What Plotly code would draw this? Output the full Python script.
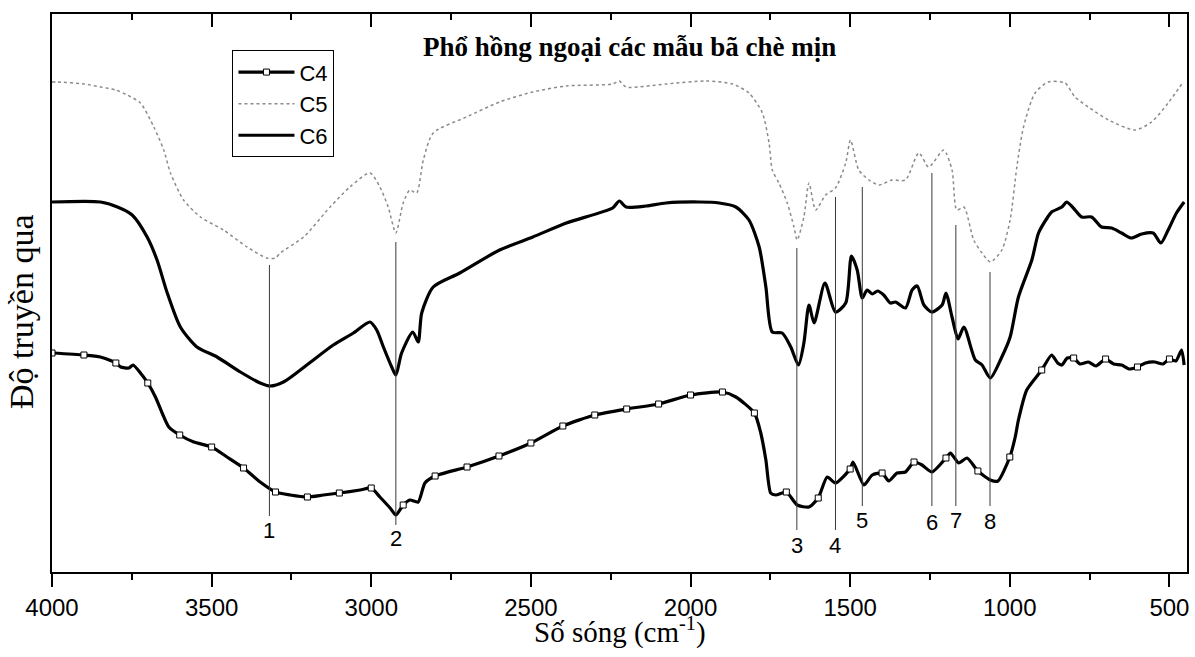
import plotly.graph_objects as go

# ---------------- data (wavenumber cm-1, transmittance arbitrary units) ----------------
wn_c4 = [4000, 3900, 3848, 3800, 3785, 3759, 3746, 3723, 3700, 3676, 3655, 3634, 3600, 3556,
         3500, 3452, 3400, 3348, 3300, 3254, 3200, 3150, 3100, 3035, 3000, 2973, 2941, 2923,
         2900, 2879, 2853, 2832, 2800, 2700, 2600, 2500, 2400, 2300, 2200, 2100, 2000, 1900,
         1858, 1800, 1780, 1764, 1749, 1733, 1700, 1666, 1629, 1600, 1572, 1546, 1500, 1491,
         1457, 1431, 1400, 1379, 1353, 1327, 1300, 1275, 1244, 1200, 1186, 1160, 1134, 1100,
         1061, 1037, 1000, 983, 973, 947, 900, 869, 850, 837, 820, 800, 780, 754, 730, 700,
         675, 650, 625, 600, 575, 546, 520, 500, 480, 462, 454]
t_c4 = [219, 217, 215, 209, 205, 204, 207, 199, 189, 175, 159, 145, 137, 130,
        125, 115, 104, 90, 80, 77, 75, 77, 79, 82, 84, 75, 64, 57,
        67, 72, 70, 89, 96, 105, 116, 129, 146, 157, 163, 168, 177, 180,
        175, 159, 139, 112, 79, 77, 80, 67, 65, 74, 95, 89, 103, 110,
        87, 97, 99, 91, 99, 100, 110, 107, 100, 114, 119, 109, 114, 101,
        92, 91, 115, 135, 152, 182, 202, 217, 209, 207, 214, 214, 208, 210, 206, 213,
        208, 207, 203, 205, 209, 210, 208, 213, 211, 222, 207]

wn_c5 = [4000, 3983, 3900, 3848, 3800, 3764, 3723, 3681, 3650, 3629, 3588, 3535, 3463, 3389,
         3327, 3300, 3285, 3212, 3129, 3067, 3004, 2973, 2947, 2923, 2900, 2879, 2858, 2837,
         2806, 2702, 2598, 2494, 2389, 2244, 2223, 2202, 2077, 1952, 1869, 1817, 1775, 1754,
         1744, 1723, 1697, 1676, 1666, 1645, 1629, 1608, 1577, 1546, 1514, 1499, 1473, 1441,
         1410, 1369, 1327, 1285, 1254, 1207, 1181, 1166, 1144, 1113, 1087, 1061, 1025, 999,
         978, 957, 921, 879, 827, 796, 754, 691, 608, 556, 504, 457]
t_c5 = [490, 490, 488, 485, 482, 477, 469, 445, 422, 399, 372, 355, 342, 325,
        314, 314, 319, 335, 365, 385, 399, 385, 365, 339, 369, 382, 379, 412,
        439, 455, 470, 480, 486, 488, 491, 485, 488, 491, 488, 479, 459, 429,
        402, 389, 369, 345, 332, 355, 389, 362, 377, 384, 409, 432, 402, 392,
        387, 392, 392, 419, 405, 422, 402, 362, 365, 332, 319, 310, 322, 352,
        405, 445, 479, 490, 489, 475, 465, 452, 442, 450, 469, 490]

wn_c6 = [4000, 3848, 3795, 3749, 3702, 3671, 3639, 3598, 3546, 3483, 3410, 3348, 3317, 3275,
         3202, 3119, 3056, 3004, 2983, 2962, 2936, 2923, 2905, 2870, 2853, 2842, 2806, 2723,
         2598, 2494, 2389, 2244, 2223, 2202, 2139, 2077, 1973, 1910, 1858, 1817, 1785, 1764,
         1744, 1713, 1686, 1662, 1645, 1629, 1613, 1579, 1546, 1514, 1496, 1478, 1462, 1447,
         1431, 1414, 1395, 1374, 1358, 1327, 1306, 1290, 1269, 1244, 1212, 1200, 1181, 1162,
         1144, 1108, 1087, 1061, 1025, 999, 973, 931, 910, 881, 869, 837, 822, 801, 775, 744,
         713, 681, 650, 619, 587, 551, 527, 504, 478, 454]
t_c6 = [370, 370, 365, 357, 335, 312, 279, 245, 225, 215, 200, 189, 186, 190,
        207, 227, 239, 250, 242, 225, 205, 197, 219, 240, 230, 259, 285, 299,
        322, 335, 349, 364, 371, 365, 366, 369, 370, 369, 365, 352, 325, 285,
        240, 239, 225, 207, 229, 267, 249, 289, 260, 269, 316, 302, 274, 282,
        278, 281, 277, 269, 270, 264, 282, 286, 267, 260, 267, 279, 255, 233,
        245, 212, 207, 194, 215, 235, 275, 312, 339, 355, 360, 365, 370, 364, 355, 355,
        345, 344, 339, 334, 338, 339, 329, 342, 359, 370]

marker_wn = list(range(4000, 499, -100))

peak_labels = ["1", "2", "3", "4", "5", "6", "7", "8"]
peak_wn = [3319, 2923, 1667, 1546, 1462, 1244, 1169, 1062]
peak_top = [307, 330, 324, 375, 385, 399, 347, 300]
peak_bottom = [56, 47, 42, 42, 66, 66, 66, 66]
label_y = [42, 34, 27, 27, 52, 50, 52, 51]

x_range = [4000, 445]
y_range = [0, 558]

SANS = "Liberation Sans, Arial, sans-serif"
SERIF = "Liberation Serif, Times New Roman, serif"

fig = go.Figure()

# C5 dotted grey
fig.add_trace(go.Scatter(x=wn_c5, y=t_c5, mode="lines", name="C5", showlegend=False,
                         line=dict(color="#8a8a8a", width=1.5, dash="dot",
                                   shape="spline", smoothing=0.7)))
# C6 solid
fig.add_trace(go.Scatter(x=wn_c6, y=t_c6, mode="lines", name="C6", showlegend=False,
                         line=dict(color="black", width=3.2, shape="spline", smoothing=0.7)))
# C4 line + markers
fig.add_trace(go.Scatter(x=wn_c4, y=t_c4, mode="lines", name="C4", showlegend=False,
                         line=dict(color="black", width=3.2, shape="spline", smoothing=0.6)))
marker_t = [t_c4[wn_c4.index(w)] for w in marker_wn]
fig.add_trace(go.Scatter(x=marker_wn, y=marker_t, mode="markers", showlegend=False,
                         marker=dict(symbol="square", size=6, color="white",
                                     line=dict(color="black", width=1))))

# legend entries
fig.add_trace(go.Scatter(x=[None], y=[None], mode="lines+markers", name="C4",
                         line=dict(color="black", width=3.2),
                         marker=dict(symbol="square", size=6, color="white",
                                     line=dict(color="black", width=1))))
fig.add_trace(go.Scatter(x=[None], y=[None], mode="lines", name="C5",
                         line=dict(color="#8a8a8a", width=1.5, dash="dot")))
fig.add_trace(go.Scatter(x=[None], y=[None], mode="lines", name="C6",
                         line=dict(color="black", width=3.2)))

# dummy for top axis
fig.add_trace(go.Scatter(x=[None], y=[None], xaxis="x2", showlegend=False, hoverinfo="skip"))

shapes = []
annotations = []
for lab, w, top, bot, ly in zip(peak_labels, peak_wn, peak_top, peak_bottom, label_y):
    shapes.append(dict(type="line", xref="x", yref="y", x0=w, x1=w, y0=bot, y1=top,
                       line=dict(color="#3a3a3a", width=1)))
    annotations.append(dict(x=w, y=ly, xref="x", yref="y", text=lab, showarrow=False,
                            font=dict(family=SANS, size=22, color="black"),
                            xanchor="center", yanchor="middle"))

annotations.append(dict(x=0.509, y=0.941, xref="paper", yref="paper",
                        text="<b>Phổ hồng ngoại các mẫu bã chè mịn</b>", showarrow=False,
                        font=dict(family=SERIF, size=27, color="black"),
                        xanchor="center", yanchor="middle"))
annotations.append(dict(x=0.5, y=-0.104, xref="paper", yref="paper",
                        text="Số sóng (cm<sup>-1</sup>)", showarrow=False,
                        font=dict(family=SERIF, size=29, color="black"),
                        xanchor="center", yanchor="middle"))
annotations.append(dict(x=-0.0264, y=0.466, xref="paper", yref="paper",
                        text="Độ truyền qua", showarrow=False, textangle=-90,
                        font=dict(family=SERIF, size=34, color="black"),
                        xanchor="center", yanchor="middle"))

fig.update_layout(
    width=1195, height=657,
    margin=dict(l=52, r=6, t=14, b=85),
    paper_bgcolor="white", plot_bgcolor="white",
    showlegend=True,
    legend=dict(x=0.159, y=0.935, xanchor="left", yanchor="top",
                bordercolor="black", borderwidth=1, bgcolor="white",
                font=dict(family=SANS, size=22, color="black"),
                itemwidth=56, tracegroupgap=0),
    xaxis=dict(range=x_range, tickmode="linear", tick0=0, dtick=500,
               ticks="outside", ticklen=13, tickwidth=2, tickcolor="black",
               minor=dict(dtick=250, ticks="outside", ticklen=6, tickwidth=2, tickcolor="black"),
               showline=True, linewidth=2, linecolor="black", mirror=True,
               showgrid=False, zeroline=False,
               tickfont=dict(family=SANS, size=24, color="black")),
    xaxis2=dict(range=x_range, overlaying="x", side="top", tickmode="linear", tick0=0, dtick=500,
                ticks="inside", ticklen=13, tickwidth=2, tickcolor="black",
                minor=dict(dtick=250, ticks="inside", ticklen=6, tickwidth=2, tickcolor="black"),
                showticklabels=False, showline=False, showgrid=False, zeroline=False),
    yaxis=dict(range=y_range, showticklabels=False, ticks="", showline=True, linewidth=2,
               linecolor="black", mirror=True, showgrid=False, zeroline=False),
    shapes=shapes, annotations=annotations,
)

fig.write_html("out.html")
